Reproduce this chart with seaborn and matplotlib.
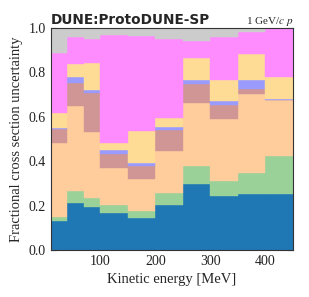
import pandas as pd
import matplotlib
matplotlib.use("Agg")
import matplotlib.pyplot as plt
import seaborn as sns

# bin edges in kinetic energy [MeV]
edges = [10, 40, 70, 100, 150, 200, 250, 300, 350, 400, 450]

# fractional contributions per bin (bottom -> top of the stack)
blue = [0.130, 0.210, 0.195, 0.165, 0.143, 0.203, 0.299, 0.243, 0.252, 0.252]
green = [0.017, 0.054, 0.038, 0.038, 0.033, 0.052, 0.081, 0.068, 0.095, 0.173]
peach = [0.336, 0.385, 0.300, 0.166, 0.142, 0.192, 0.281, 0.279, 0.354, 0.249]
rosy = [0.060, 0.102, 0.176, 0.065, 0.062, 0.092, 0.087, 0.063, 0.026, 0.002]
lavender = [0.008, 0.030, 0.012, 0.016, 0.010, 0.014, 0.016, 0.017, 0.037, 0.006]
yellow = [0.065, 0.058, 0.120, 0.031, 0.146, 0.043, 0.102, 0.096, 0.120, 0.096]
magenta = [0.270, 0.122, 0.109, 0.487, 0.429, 0.354, 0.075, 0.195, 0.098, 0.222]
gray = [0.114, 0.039, 0.050, 0.032, 0.035, 0.050, 0.059, 0.039, 0.018, 0.000]

components = {
    "blue": blue, "green": green, "peach": peach, "rosy": rosy,
    "lavender": lavender, "yellow": yellow, "magenta": magenta, "gray": gray,
}
colors = {
    "blue": "#1f77b4", "green": "#99d199", "peach": "#ffcc9c", "rosy": "#d09696",
    "lavender": "#9b9bff", "yellow": "#ffdc96", "magenta": "#ff8cff", "gray": "#cccccc",
}

centers = [(a + b) / 2 for a, b in zip(edges[:-1], edges[1:])]
rows = []
for name, vals in components.items():
    for c, v in zip(centers, vals):
        rows.append({"energy": c, "frac": v, "source": name})
df = pd.DataFrame(rows)

sns.set_style("ticks")
plt.rcParams["font.family"] = ["Liberation Serif", "DejaVu Serif"]
plt.rcParams["mathtext.fontset"] = "stix"

fig = plt.figure(figsize=(3.09, 2.97), dpi=100)
ax = fig.add_axes([0.165, 0.158, 0.783, 0.748])

# seaborn stacks the last hue level at the bottom
order = list(components.keys())[::-1]
sns.histplot(data=df, x="energy", weights="frac", hue="source", hue_order=order,
             bins=edges, multiple="stack", palette=colors, alpha=1,
             linewidth=0.3, edgecolor=None, legend=False, ax=ax)
for p in ax.patches:
    p.set_edgecolor(p.get_facecolor())

ax.set_xlim(10, 450)
ax.set_ylim(0, 1)
ax.set_xticks([100, 200, 300, 400])
ax.set_yticks([0, 0.2, 0.4, 0.6, 0.8, 1.0])
ax.set_yticklabels(["0.0", "0.2", "0.4", "0.6", "0.8", "1.0"])
ax.tick_params(direction="in", top=True, right=True, length=4, width=0.8,
               labelsize=10, colors="#222222")
for s in ax.spines.values():
    s.set_color("#333333")
    s.set_linewidth(0.8)

ax.set_xlabel("Kinetic energy [MeV]", fontsize=10.5)
ax.set_ylabel("Fractional cross section uncertainty", fontsize=10.5)
ax.set_title("DUNE:ProtoDUNE-SP", loc="left", fontsize=9.8, fontweight="bold",
             family="DejaVu Sans", pad=3)
ax.set_title("1 GeV/$c$ $p$", loc="right", fontsize=8, pad=3)

fig.savefig("out.png", dpi=100)
